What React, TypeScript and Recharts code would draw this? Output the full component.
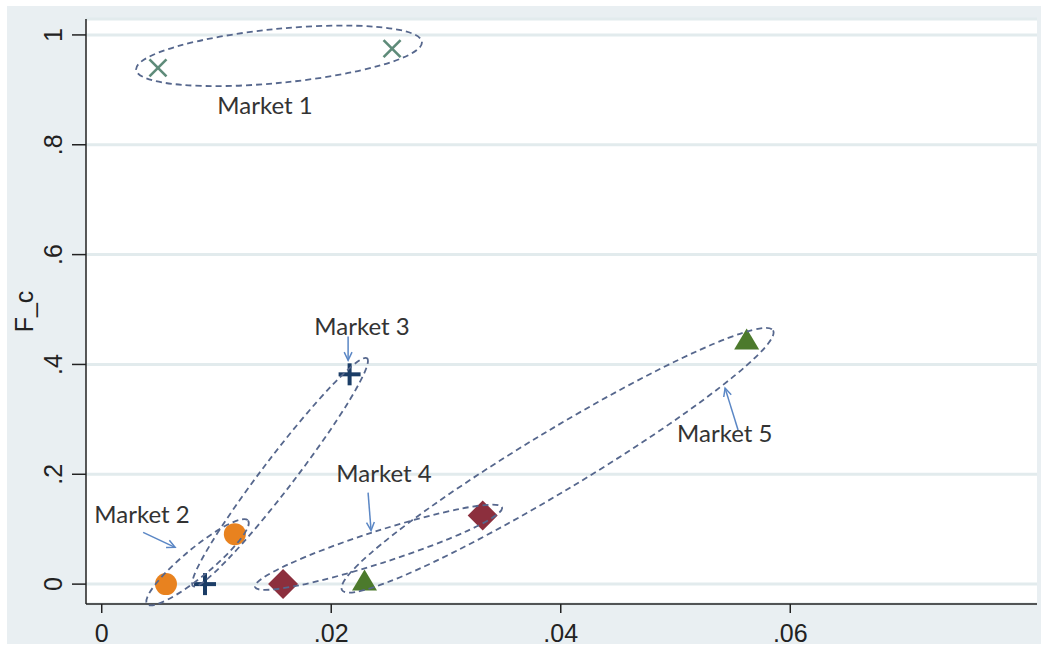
import React from "react";
import { ScatterChart, Scatter, XAxis, YAxis, CartesianGrid } from "recharts";

type Pt = { x: number; y: number };

// marker positions per market (x = share, y = F_c)
const market1: Pt[] = [{ x: 0.0049, y: 0.94 }, { x: 0.0253, y: 0.975 }];
const market2: Pt[] = [{ x: 0.0056, y: 0 }, { x: 0.0116, y: 0.091 }];
const market3: Pt[] = [{ x: 0.009, y: 0 }, { x: 0.0216, y: 0.382 }];
const market4: Pt[] = [{ x: 0.0158, y: 0 }, { x: 0.0332, y: 0.125 }];
const market5: Pt[] = [{ x: 0.0229, y: 0.003 }, { x: 0.0562, y: 0.442 }];

// the two tips of each dashed ellipse, in data units
const ellipse1: Pt[] = [{ x: 0.003, y: 0.9366 }, { x: 0.0279, y: 0.9873 }];
const ellipse2: Pt[] = [{ x: 0.00395, y: -0.0362 }, { x: 0.01275, y: 0.1159 }];
const ellipse3: Pt[] = [{ x: 0.00796, y: -0.0036 }, { x: 0.02312, y: 0.4112 }];
const ellipse4: Pt[] = [{ x: 0.01336, y: -0.0054 }, { x: 0.03488, y: 0.1395 }];
const ellipse5: Pt[] = [{ x: 0.02094, y: -0.0109 }, { x: 0.0585, y: 0.462 }];

// annotation text and arrows (start -> head)
const labels = [
  { x: 0.01423, y: 0.873, text: "Market 1" },
  { x: 0.00351, y: 0.1286, text: "Market 2" },
  { x: 0.02268, y: 0.471, text: "Market 3" },
  { x: 0.0246, y: 0.2038, text: "Market 4" },
  { x: 0.05429, y: 0.2754, text: "Market 5" },
];
const arrow2: Pt[] = [{ x: 0.00361, y: 0.0942 }, { x: 0.00639, y: 0.067 }];
const arrow3: Pt[] = [{ x: 0.02147, y: 0.451 }, { x: 0.02147, y: 0.4076 }];
const arrow4: Pt[] = [{ x: 0.02321, y: 0.1667 }, { x: 0.02347, y: 0.0978 }];
const arrow5: Pt[] = [{ x: 0.05545, y: 0.2808 }, { x: 0.05432, y: 0.3569 }];

const xTicks = [0, 0.02, 0.04, 0.06];
const yTicks = [0, 0.2, 0.4, 0.6, 0.8, 1];

const fmt = (v: number) => (v === 0 || v === 1 ? String(v) : String(v).replace(/^0/, ""));

const AXIS = "#222";
const TICK_FONT = "'Liberation Sans', Arial, sans-serif";
const DASH = "#56678d";
const ARROW = "#5b87c5";

const XMark = ({ cx, cy }: any) => {
  const s = 8.5;
  return (
    <g stroke="#5e8b79" strokeWidth={2.6}>
      <line x1={cx - s} y1={cy - s} x2={cx + s} y2={cy + s} />
      <line x1={cx - s} y1={cy + s} x2={cx + s} y2={cy - s} />
    </g>
  );
};
const Dot = ({ cx, cy }: any) => <circle cx={cx} cy={cy} r={11} fill="#e8821f" />;
const Plus = ({ cx, cy }: any) => {
  const s = 11;
  return (
    <g stroke="#1b3d66" strokeWidth={4}>
      <line x1={cx - s} y1={cy} x2={cx + s} y2={cy} />
      <line x1={cx} y1={cy - s} x2={cx} y2={cy + s} />
    </g>
  );
};
const Diamond = ({ cx, cy }: any) => {
  const s = 15;
  return <polygon points={`${cx},${cy - s} ${cx + s},${cy} ${cx},${cy + s} ${cx - s},${cy}`} fill="#8c2f3d" />;
};
const Triangle = ({ cx, cy }: any) => (
  <polygon points={`${cx},${cy - 13} ${cx + 12.5},${cy + 8} ${cx - 12.5},${cy + 8}`} fill="#4c7a2c" />
);
const Nothing = () => <g />;

const ellipseLine = (minor: number) => (props: any) => {
  const pts = props.points;
  if (!pts || pts.length < 2) return <g />;
  const [a, b] = pts;
  const cx = (a.x + b.x) / 2;
  const cy = (a.y + b.y) / 2;
  const rx = Math.hypot(b.x - a.x, b.y - a.y) / 2;
  const ang = (Math.atan2(b.y - a.y, b.x - a.x) * 180) / Math.PI;
  return (
    <ellipse
      cx={cx}
      cy={cy}
      rx={rx}
      ry={minor}
      transform={`rotate(${ang} ${cx} ${cy})`}
      fill="none"
      stroke={DASH}
      strokeWidth={1.8}
      strokeDasharray="6 4"
    />
  );
};

const arrowLine = (props: any) => {
  const pts = props.points;
  if (!pts || pts.length < 2) return <g />;
  const [a, b] = pts;
  const ang = Math.atan2(b.y - a.y, b.x - a.x);
  const h = 9;
  const w = 0.45;
  const p1 = `${b.x - h * Math.cos(ang - w)},${b.y - h * Math.sin(ang - w)}`;
  const p2 = `${b.x - h * Math.cos(ang + w)},${b.y - h * Math.sin(ang + w)}`;
  return (
    <g stroke={ARROW} strokeWidth={1.5} fill="none">
      <line x1={a.x} y1={a.y} x2={b.x} y2={b.y} />
      <polyline points={`${p1} ${b.x},${b.y} ${p2}`} />
    </g>
  );
};

const LabelText = ({ cx, cy, payload }: any) => (
  <text
    x={cx}
    y={cy}
    textAnchor="middle"
    dominantBaseline="central"
    fontFamily="Lato, sans-serif"
    fontSize={24}
    fill="#333"
  >
    {payload.text}
  </text>
);

const YTick = ({ x, y, payload }: any) => {
  const tx = x - 8;
  return (
    <text
      x={tx}
      y={y}
      transform={`rotate(-90 ${tx} ${y})`}
      textAnchor="middle"
      fontFamily={TICK_FONT}
      fontSize={25}
      fill={AXIS}
    >
      {fmt(payload.value)}
    </text>
  );
};

const YLabel = ({ viewBox }: any) => {
  const x = (viewBox?.x ?? 0) + 33;
  const y = (viewBox?.y ?? 19) + (viewBox?.height ?? 585) / 2;
  return (
    <text
      x={x}
      y={y}
      transform={`rotate(-90 ${x} ${y})`}
      textAnchor="middle"
      fontFamily={TICK_FONT}
      fontSize={25}
      fill={AXIS}
    >
      F_c
    </text>
  );
};

export default function App() {
  return (
    <div style={{ position: "absolute", left: 0, top: 0, width: 1041, height: 647, background: "#fff" }}>
      <div style={{ position: "absolute", left: 7, top: 6, width: 1034, height: 638, background: "#e9eff2" }} />
      <div style={{ position: "absolute", left: 0, top: 0 }}>
        <ScatterChart width={1041} height={647} margin={{ top: 19, right: 4, bottom: 0, left: 0 }}>
          <CartesianGrid vertical={false} fill="#fff" stroke="#e2ebed" strokeWidth={3} />
          <XAxis
            type="number"
            dataKey="x"
            domain={[-0.00137, 0.0815]}
            ticks={xTicks}
            tickFormatter={fmt}
            height={43}
            tickSize={9}
            tickMargin={11}
            axisLine={{ stroke: AXIS, strokeWidth: 1.5 }}
            tickLine={{ stroke: AXIS, strokeWidth: 1.5 }}
            tick={{ fontSize: 25, fontFamily: TICK_FONT, fill: AXIS }}
          />
          <YAxis
            type="number"
            dataKey="y"
            domain={[-0.031, 1.029]}
            ticks={yTicks}
            width={86}
            tickSize={14}
            axisLine={{ stroke: AXIS, strokeWidth: 1.5 }}
            tickLine={{ stroke: AXIS, strokeWidth: 1.5 }}
            tick={<YTick />}
            label={{ content: <YLabel /> }}
          />
          <Scatter data={market1} shape={<XMark />} isAnimationActive={false} />
          <Scatter data={market2} shape={<Dot />} isAnimationActive={false} />
          <Scatter data={market3} shape={<Plus />} isAnimationActive={false} />
          <Scatter data={market4} shape={<Diamond />} isAnimationActive={false} />
          <Scatter data={market5} shape={<Triangle />} isAnimationActive={false} />
          <Scatter data={ellipse1} shape={<Nothing />} line={ellipseLine(27)} lineType="joint" isAnimationActive={false} />
          <Scatter data={ellipse2} shape={<Nothing />} line={ellipseLine(14)} lineType="joint" isAnimationActive={false} />
          <Scatter data={ellipse3} shape={<Nothing />} line={ellipseLine(16)} lineType="joint" isAnimationActive={false} />
          <Scatter data={ellipse4} shape={<Nothing />} line={ellipseLine(16)} lineType="joint" isAnimationActive={false} />
          <Scatter data={ellipse5} shape={<Nothing />} line={ellipseLine(30)} lineType="joint" isAnimationActive={false} />
          <Scatter data={arrow2} shape={<Nothing />} line={arrowLine} lineType="joint" isAnimationActive={false} />
          <Scatter data={arrow3} shape={<Nothing />} line={arrowLine} lineType="joint" isAnimationActive={false} />
          <Scatter data={arrow4} shape={<Nothing />} line={arrowLine} lineType="joint" isAnimationActive={false} />
          <Scatter data={arrow5} shape={<Nothing />} line={arrowLine} lineType="joint" isAnimationActive={false} />
          <Scatter data={labels} shape={<LabelText />} isAnimationActive={false} />
        </ScatterChart>
      </div>
    </div>
  );
}
